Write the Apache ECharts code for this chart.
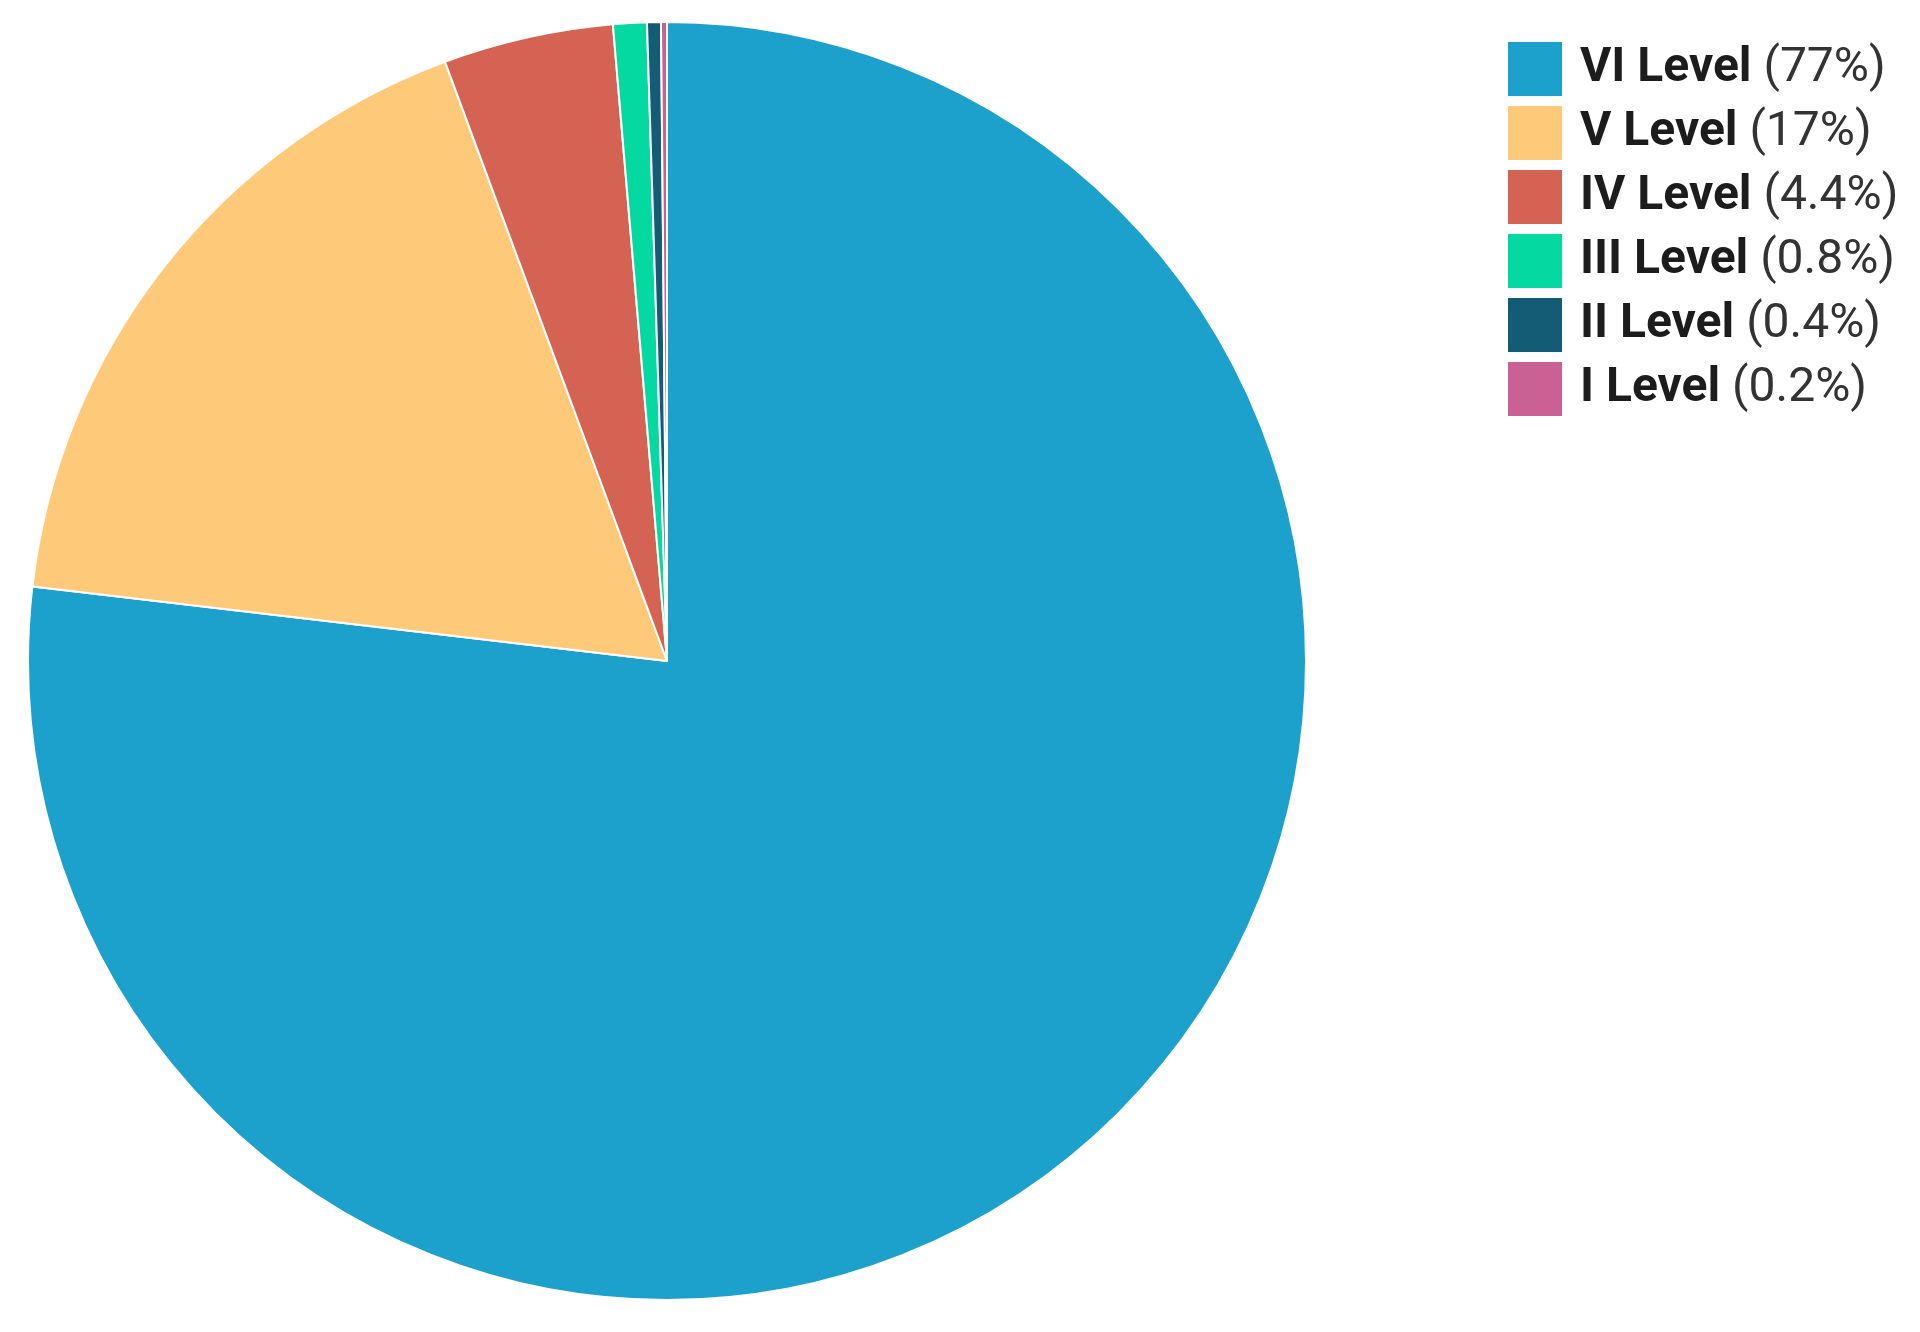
<!DOCTYPE html>
<html>
<head>
<meta charset="utf-8">
<script src="https://cdn.jsdelivr.net/npm/echarts@6/dist/echarts.min.js"></script>
<style>
  html, body { margin: 0; padding: 0; background: #fff; }
  #chart { width: 1920px; height: 1332px; }
</style>
</head>
<body>
<div id="chart"></div>
<script>
// level categories, clockwise from 12 o'clock
const levels = ['VI Level', 'V Level', 'IV Level', 'III Level', 'II Level', 'I Level']
// shares
const shares = [76.9, 17.5, 4.3, 0.85, 0.35, 0.15]
// percentages as printed in the legend
const shareLabels = ['77%', '17%', '4.4%', '0.8%', '0.4%', '0.2%']
const levelColors = ['#1ba1cc', '#fec979', '#d56353', '#03d9a0', '#145b75', '#cb6094']

const chart = echarts.init(document.getElementById('chart'))

chart.setOption({
  backgroundColor: '#fff',
  color: levelColors,
  animation: false,
  legend: {
    orient: 'vertical',
    left: 1506,
    top: 40,
    padding: 0,
    icon: 'rect',
    itemWidth: 56,
    itemHeight: 56,
    itemGap: 6,
    selectedMode: false,
    data: levels,
    formatter: name => {
      const i = levels.indexOf(name)
      return '{b|' + name + '}{n| (' + shareLabels[i] + ')}'
    },
    textStyle: {
      padding: [0, 0, 0, 12],
      rich: {
        b: { fontFamily: 'Roboto', fontWeight: 'bold', fontSize: 48, lineHeight: 50, color: '#1c1c1c' },
        n: { fontFamily: 'Roboto', fontWeight: 'normal', fontSize: 48, lineHeight: 50, color: '#333' }
      }
    }
  },
  series: [{
    type: 'pie',
    center: [667, 661],
    radius: 639,
    startAngle: 90,
    clockwise: true,
    label: { show: false },
    labelLine: { show: false },
    emphasis: { disabled: true },
    itemStyle: { borderColor: '#fff', borderWidth: 2 },
    data: levels.map((name, i) => ({ name, value: shares[i] }))
  }]
})
</script>
</body>
</html>
